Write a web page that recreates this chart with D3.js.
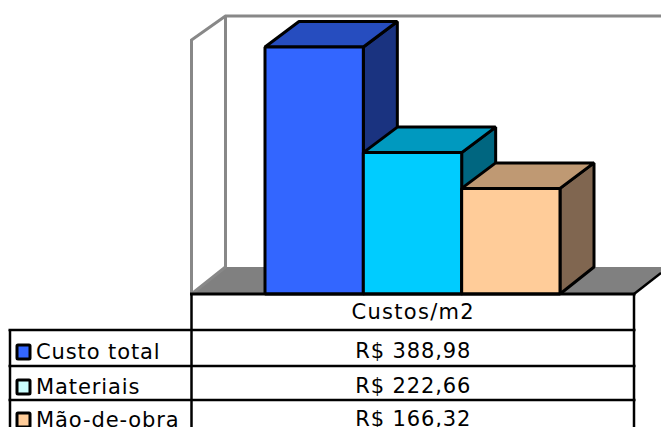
<!DOCTYPE html>
<html><head><meta charset="utf-8">
<script src="https://cdn.jsdelivr.net/npm/d3@7"></script>
<style>html,body{margin:0;padding:0;background:#fff}svg{display:block}text{font-family:"DejaVu Sans";fill:#000}</style>
</head><body><svg id="c" width="661" height="427"></svg>
<script>
const categories = ["Custo total","Materiais","Mão-de-obra"];
const values = [388.98,222.66,166.32];
const valueLabels = ["R$ 388,98","R$ 222,66","R$ 166,32"];
const axisLabel = "Custos/m2";
const frontColors = ["#3366FF","#00CCFF","#FFCC99"];
const topColors = ["#264DBF","#0099BF","#BF9973"];
const sideColors = ["#1A3380","#006680","#806650"];
const legendColors = ["#3366FF","#CCFFFF","#FFCC99"];
const rowLines = [330,366,400];

const svg = d3.select("#c");
const base = 294, dx = 34, dyB = -27, dyT = -25.5, dyW = -24;
const x = d3.scaleBand().domain(categories).range([265,560]).padding(0);
const y = d3.scaleLinear().domain([0,400]).range([base,40]);
const L = 191.5, R = 634;
const poly = p => p.map(a=>a.join(",")).join(" ");

// walls
const G = svg.append("g");
G.append("polygon").attr("points",poly([[L,base],[L+dx,base+dyB],[661,base+dyB],[661,base-21],[R,base]])).attr("fill","#808080");
G.append("path").attr("d",`M${L},${base}V${y(400)}L${L+dx},${y(400)+dyW}H661M${L+dx},${y(400)+dyW}V${base+dyB}L${L},${base}`)
 .attr("fill","none").attr("stroke","#888").attr("stroke-width",3);
G.append("line").attr("x1",R).attr("y1",base).attr("x2",661).attr("y2",base-21).attr("stroke","#000").attr("stroke-width",2.5);

// bars, back to front order left to right
const bars = svg.append("g").attr("stroke","#000").attr("stroke-width",3).attr("stroke-linejoin","bevel");
categories.forEach((c,i)=>{
  const a=x(c), b=a+x.bandwidth(), t=y(values[i]);
  bars.append("polygon").attr("points",poly([[b,base],[b+dx,base+dyB],[b+dx,t+dyT],[b,t]])).attr("fill",sideColors[i]);
  bars.append("polygon").attr("points",poly([[a,t],[a+dx,t+dyT],[b+dx,t+dyT],[b,t]])).attr("fill",topColors[i]);
  bars.append("rect").attr("x",a).attr("y",t).attr("width",b-a).attr("height",base-t).attr("fill",frontColors[i]);
});

// data table
const T = svg.append("g").attr("stroke","#000");
T.append("line").attr("x1",L-1.5).attr("x2",R+1.5).attr("y1",base).attr("y2",base).attr("stroke-width",3);
rowLines.forEach(v=>T.append("line").attr("x1",8.5).attr("x2",R+1.5).attr("y1",v).attr("y2",v).attr("stroke-width",2.5));
T.append("line").attr("x1",L).attr("x2",L).attr("y1",base).attr("y2",427).attr("stroke-width",2.5);
T.append("line").attr("x1",R).attr("x2",R).attr("y1",base).attr("y2",427).attr("stroke-width",2.5);
T.append("line").attr("x1",10).attr("x2",10).attr("y1",rowLines[0]).attr("y2",427).attr("stroke-width",2.5);

const tx = (L+R)/2 + 0.5, fs = 21;
const lab = svg.append("g").attr("font-size",fs).attr("letter-spacing","0.9");
lab.append("text").attr("x",tx).attr("y",319).attr("text-anchor","middle").attr("letter-spacing","1.3").text(axisLabel);
const baselines = [358,393,426];
categories.forEach((c,i)=>{
  lab.append("text").attr("x",tx).attr("y",baselines[i]).attr("text-anchor","middle").text(valueLabels[i]);
  lab.append("text").attr("x",36).attr("y",baselines[i]+1).text(c);
  svg.append("rect").attr("x",17).attr("y",baselines[i]-13).attr("width",13).attr("height",14).attr("rx",1)
    .attr("fill",legendColors[i]).attr("stroke","#000").attr("stroke-width",3);
});
</script></body></html>
